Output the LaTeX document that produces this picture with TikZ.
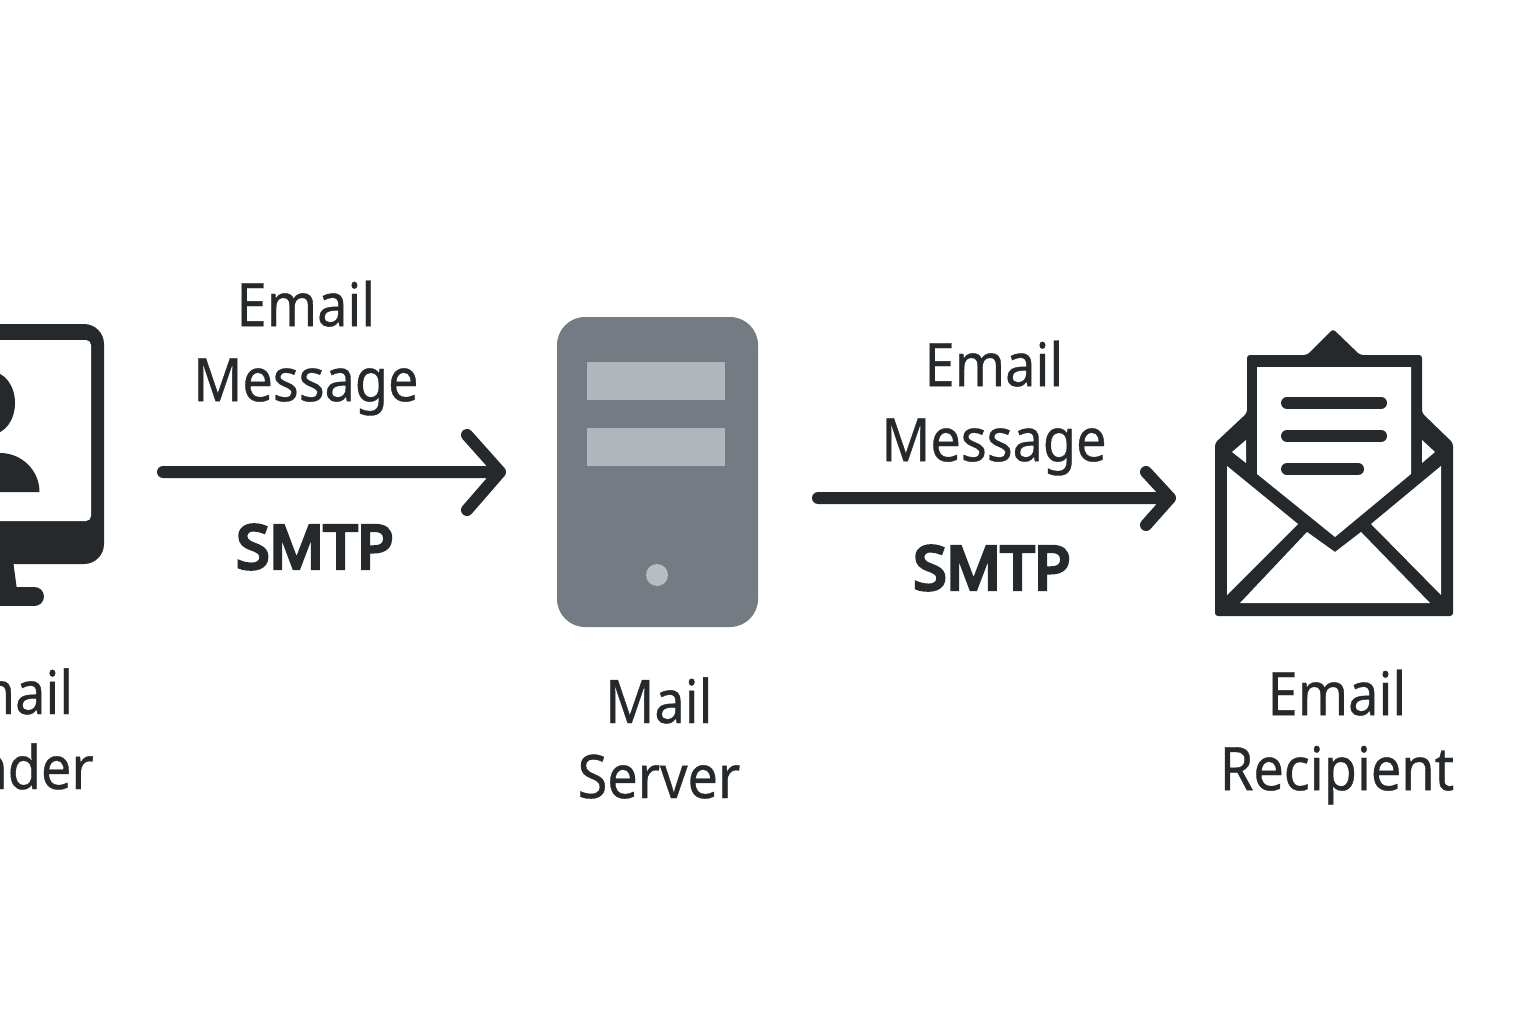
\documentclass[tikz,border=0pt]{standalone}
\usepackage{fontspec}
\setmainfont{Noto Sans}[FakeStretch=0.9,FakeBold=0.6]
\newfontfamily\protofont{Noto Sans}[FakeBold=6]
\definecolor{ink}{HTML}{25292C}
\definecolor{srv}{HTML}{747B82}
\definecolor{bar}{HTML}{B1B6BC}
\definecolor{dot}{HTML}{B9BDC2}
\tikzset{
  lbl/.style={text=ink,align=center,inner sep=0pt,font=\fontsize{60}{75}\selectfont},
  proto/.style={text=ink,inner sep=0pt,font=\fontsize{60}{72}\protofont},
  arrowline/.style={draw=ink,line width=12pt,line cap=round,line join=round},
  paperline/.style={draw=ink,line width=12pt,line cap=round},
}
\begin{document}
\begin{tikzpicture}[x=1pt,y=-1pt]
\useasboundingbox (0,0) rectangle (1536,1024);
\clip (0,0) rectangle (1536,1024);
\fill[white] (0,0) rectangle (1536,1024);
% sender monitor
\fill[ink] (13,560) -- (17,590) -- (-40,590) -- (-40,560) -- cycle;
\draw[ink,line width=19pt,line cap=round] (-40,596.5) -- (34.5,596.5);
\fill[ink,rounded corners=20pt] (-200,324) rectangle (104,564);
\fill[white,rounded corners=5pt] (-200,340) rectangle (91,521);
\fill[ink] (-8,403) ellipse[x radius=23,y radius=31];
\fill[ink] (-39.5,492) arc[start angle=180,end angle=360,x radius=39.5,y radius=39] -- cycle;
% server
\node[fill=srv,rounded corners=28pt,minimum width=201pt,minimum height=310pt,inner sep=0pt] (server) at (657.5,472) {};
\node[fill=bar,minimum width=138pt,minimum height=38pt,inner sep=0pt] (bar1) at (656,381) {};
\node[fill=bar,minimum width=138pt,minimum height=38pt,inner sep=0pt] (bar2) at (656,447) {};
\node[fill=dot,circle,minimum size=22pt,inner sep=0pt] (led) at (657,575) {};
% recipient envelope
\fill[ink,rounded corners=3pt] (1215,443) -- (1247,413) -- (1247,355) -- (1307,355) -- (1333,329) -- (1360,355) -- (1422,355) -- (1422,413) -- (1453,443) -- (1453,616) -- (1215,616) -- cycle;
\fill[white] (1257,367) -- (1411,367) -- (1411,474) -- (1335,537) -- (1257,474) -- cycle;
\fill[white] (1227,466) -- (1227,595) -- (1298,524) -- cycle;
\fill[white] (1441,466) -- (1441,595) -- (1371,524) -- cycle;
\fill[white] (1240,603) -- (1430,603) -- (1361,532) -- (1335,552) -- (1307,532) -- cycle;
\fill[white] (1246,440) -- (1232,452) -- (1246,463) -- cycle;
\fill[white] (1422,440) -- (1435,452) -- (1422,463) -- cycle;
\coordinate (p1a) at (1287,403); \coordinate (p1b) at (1381,403);
\coordinate (p2a) at (1287,436); \coordinate (p2b) at (1381,436);
\coordinate (p3a) at (1287,469); \coordinate (p3b) at (1358,469);
\draw[paperline] (p1a) -- (p1b);
\draw[paperline] (p2a) -- (p2b);
\draw[paperline] (p3a) -- (p3b);
% arrows
\coordinate (a1s) at (163,472); \coordinate (a1e) at (500,472);
\coordinate (a2s) at (818,498); \coordinate (a2e) at (1170,498);
\draw[arrowline] (a1s) -- (a1e) ++(-33,-37) -- (a1e) -- ++(-33,38);
\draw[arrowline] (a2s) -- (a2e) ++(-24,-26) -- (a2e) -- ++(-24,27);
% labels
\node[lbl] (m1) at (306,348) {Email\\Message};
\node[proto] (s1) at (315,547) {SMTP};
\node[lbl] (m2) at (994,408) {Email\\Message};
\node[proto] (s2) at (992,568) {SMTP};
\node[lbl] (senderlabel) at (4,729) {Email\\Sender};
\node[lbl] (serverlabel) at (659,738) {Mail\\Server};
\node[lbl] (recipientlabel) at (1337,737) {Email\\Recipient};
\end{tikzpicture}
\end{document}
